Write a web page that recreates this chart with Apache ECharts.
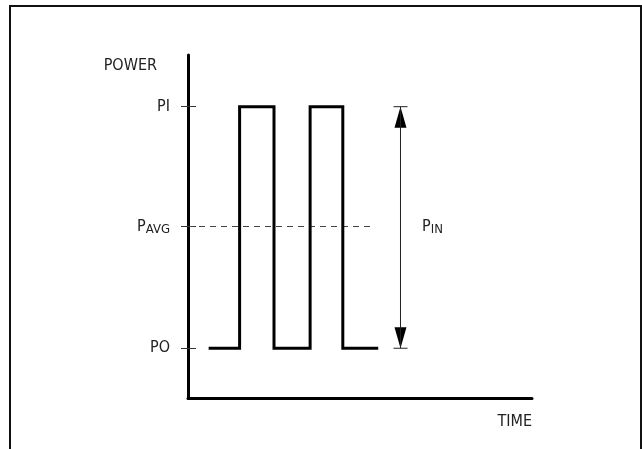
<!DOCTYPE html>
<html>
<head>
<meta charset="utf-8">
<script src="https://cdn.jsdelivr.net/npm/echarts@6/dist/echarts.min.js"></script>
<style>
  html, body { margin: 0; padding: 0; background: #fff; }
  #chart { width: 642px; height: 449px; }
</style>
</head>
<body>
<div id="chart"></div>
<script>
// pulse train, time in arbitrary units 0..100
const timePoints = [6, 15, 15, 25, 25, 35.5, 35.5, 45, 45, 55.3]
const powerLevels = [1, 1, 6, 6, 1, 1, 6, 6, 1, 1]

// y tick positions and their labels ("_" marks a subscript)
const levelValues = [1, 3.52, 6]
const levelLabels = ['PO', 'P_AVG', 'PI']

// dashed average line and the P_IN dimension arrow
const avgLevel = 3.52
const avgSpan = [0, 54]
const arrowX = 61.77
const arrowSpan = [1, 6]
const pinLabel = 'P_IN'
const pinLabelPos = [67.9, 3.52]

const xRange = [0, 100]
const yRange = [-0.03, 7.07]
const axisNames = ['TIME', 'POWER']

const FONT = '"Liberation Sans Narrow", "DejaVu Sans Condensed", "Liberation Sans", sans-serif'
const TEXT = '#222'

const toRich = (s) => {
  const parts = s.split('_')
  return parts.length > 1 ? `{main|${parts[0]}}{sub|${parts[1]}}` : s
}

const richStyle = {
  main: { fontSize: 16, fontFamily: FONT, color: TEXT },
  sub: { fontSize: 13, fontFamily: FONT, color: TEXT, padding: [7, 0, 0, 0] }
}

const chart = echarts.init(document.getElementById('chart'))

const option = {
  animation: false,
  graphic: [
    {
      type: 'rect',
      silent: true,
      z: -1,
      shape: { x: 10, y: 6, width: 631, height: 480 },
      style: { fill: 'none', stroke: '#111', lineWidth: 2 }
    }
  ],
  grid: { left: 188, right: 110, top: 55, bottom: 51 },
  xAxis: {
    type: 'value',
    min: xRange[0],
    max: xRange[1],
    axisLine: { onZero: false, lineStyle: { color: '#000', width: 3 } },
    axisTick: { show: false },
    axisLabel: { show: false },
    splitLine: { show: false },
    name: axisNames[0],
    nameLocation: 'end',
    nameGap: 0,
    nameTextStyle: {
      align: 'right',
      verticalAlign: 'top',
      padding: [16, 0, 0, 0],
      fontSize: 16,
      fontFamily: FONT,
      color: TEXT
    }
  },
  yAxis: [
    {
      type: 'value',
      min: yRange[0],
      max: yRange[1],
      axisLine: { show: true, onZero: false, lineStyle: { color: '#000', width: 3 } },
      axisTick: {
        show: true,
        customValues: levelValues,
        length: 7,
        lineStyle: { color: '#333', width: 1 }
      },
      axisLabel: {
        customValues: levelValues,
        margin: 18,
        fontSize: 16,
        fontFamily: FONT,
        color: TEXT,
        formatter: (v) => {
          const i = levelValues.indexOf(v)
          return i >= 0 ? toRich(levelLabels[i]) : ''
        },
        rich: richStyle
      },
      splitLine: { show: false },
      name: axisNames[1],
      nameLocation: 'end',
      nameGap: -11,
      nameTextStyle: {
        align: 'right',
        verticalAlign: 'middle',
        padding: [0, 31, 0, 0],
        fontSize: 16,
        fontFamily: FONT,
        color: TEXT
      }
    },
    {
      // second copy of the axis so the ticks cross the line
      type: 'value',
      position: 'left',
      min: yRange[0],
      max: yRange[1],
      axisLine: { show: false, onZero: false },
      axisTick: {
        show: true,
        inside: true,
        customValues: levelValues,
        length: 8,
        lineStyle: { color: '#333', width: 1 }
      },
      axisLabel: { show: false },
      splitLine: { show: false }
    }
  ],
  series: [
    {
      name: 'power',
      type: 'line',
      symbol: 'none',
      data: timePoints.map((t, i) => [t, powerLevels[i]]),
      lineStyle: { color: '#000', width: 3, join: 'miter' },
      z: 5
    },
    {
      name: 'average',
      type: 'line',
      symbol: 'none',
      data: [[avgSpan[0], avgLevel], [avgSpan[1], avgLevel]],
      lineStyle: { color: '#444', width: 1, type: [6, 5] },
      z: 3
    },
    {
      name: 'span',
      type: 'line',
      symbol: 'none',
      data: [[arrowX, arrowSpan[0]], [arrowX, arrowSpan[1]]],
      lineStyle: { color: '#222', width: 1 }
    },
    {
      name: 'heads',
      type: 'scatter',
      symbol: 'triangle',
      symbolSize: [12, 21],
      itemStyle: { color: '#000', opacity: 1 },
      data: [
        { value: [arrowX, arrowSpan[1]], symbolOffset: [0, 10.5] },
        { value: [arrowX, arrowSpan[0]], symbolRotate: 180, symbolOffset: [0, -10.5] }
      ]
    },
    {
      name: 'caps',
      type: 'scatter',
      symbol: 'rect',
      symbolSize: [14, 1],
      itemStyle: { color: '#222', opacity: 1 },
      data: [[arrowX, arrowSpan[0]], [arrowX, arrowSpan[1]]]
    },
    {
      name: 'pinLabel',
      type: 'scatter',
      symbolSize: 1,
      itemStyle: { color: 'transparent', opacity: 1 },
      data: [pinLabelPos],
      label: {
        show: true,
        position: 'right',
        distance: 0,
        fontSize: 16,
        fontFamily: FONT,
        color: TEXT,
        formatter: () => toRich(pinLabel),
        rich: richStyle
      }
    }
  ]
}

chart.setOption(option)
</script>
</body>
</html>
